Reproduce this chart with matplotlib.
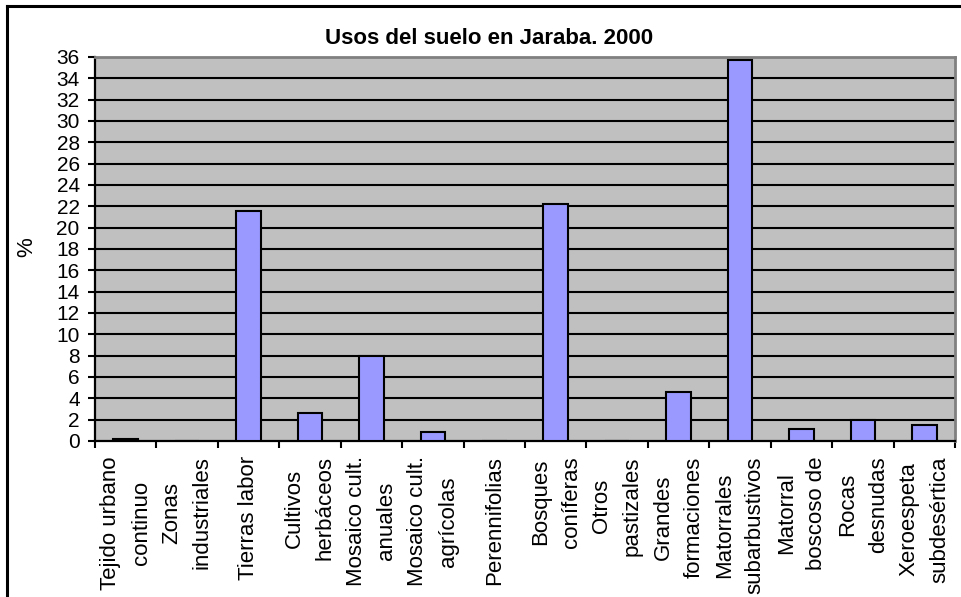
import numpy as np
import matplotlib
matplotlib.use("Agg")
import matplotlib.pyplot as plt
from matplotlib.lines import Line2D

plt.rcParams['font.family'] = ['Liberation Sans', 'DejaVu Sans']

categories = [
    "Tejido urbano\ncontinuo",
    "Zonas\nindustriales",
    "Tierras labor",
    "Cultivos\nherbáceos",
    "Mosaico cult.\nanuales",
    "Mosaico cult.\nagrícolas",
    "Perennifolias",
    "Bosques\nconíferas",
    "Otros\npastizales",
    "Grandes\nformaciones",
    "Matorrales\nsubarbustivos",
    "Matorral\nboscoso de",
    "Rocas\ndesnudas",
    "Xeroespeta\nsubdesértica",
]
values = [0.2, 0.0, 21.6, 2.6, 8.0, 0.8, 0.0, 22.2, 0.0, 4.6, 35.7, 1.1, 2.0, 1.5]
yticks = list(range(0, 37, 2))
title = "Usos del suelo en Jaraba. 2000"
ylabel = "%"

W, H = 961, 597
fig = plt.figure(figsize=(W / 100, H / 100), dpi=100)
ax = fig.add_axes([95 / W, 1 - 441 / H, 860 / W, 384 / H])
ax.set_facecolor('#C0C0C0')

x = np.arange(len(categories))
ax.bar(x, values, width=0.4, color='#9999FF', edgecolor='black', linewidth=1.5, zorder=3)

ax.set_xlim(-0.5, len(categories) - 0.5)
ax.set_ylim(0, 36)
ax.set_yticks(yticks)
ax.set_yticklabels([str(v) for v in yticks], fontsize=15)
ax.yaxis.grid(True, color='black', linewidth=1.5)
ax.set_axisbelow(True)
ticks = ax.yaxis.get_major_ticks()
ticks[-1].gridline.set_visible(False)
ticks[0].gridline.set_visible(False)

ax.set_xticks(x)
ax.set_xticklabels(categories, rotation=90, fontsize=16, ha='center', va='top')
for lbl in ax.get_xticklabels():
    lbl.set_multialignment('center')
    lbl.set_linespacing(1.6)
ax.set_xticks(np.arange(-0.5, len(categories), 1), minor=True)
ax.tick_params(axis='x', which='major', length=0, pad=11)
ax.tick_params(axis='x', which='minor', length=5, width=1.5, color='black', direction='out')
ax.tick_params(axis='y', length=5, width=1.5, color='black', direction='out', pad=6)

for s in ['left', 'bottom']:
    ax.spines[s].set_color('black')
    ax.spines[s].set_linewidth(1.6)
for s in ['top', 'right']:
    ax.spines[s].set_color('#808080')
    ax.spines[s].set_linewidth(2)

fig.text(489 / W, 1 - 38 / H, title, ha='center', va='center', fontsize=16, fontweight='bold')
fig.text(27 / W, 1 - 247 / H, ylabel, ha='center', va='center', rotation=90, fontsize=16)

# outer chart border (top and left visible)
fig.add_artist(Line2D([7 / W, 1.0], [1 - 6 / H, 1 - 6 / H], color='black', linewidth=2.2, transform=fig.transFigure))
fig.add_artist(Line2D([7 / W, 7 / W], [1 - 6 / H, 0.0], color='black', linewidth=2.2, transform=fig.transFigure))

fig.savefig('out.png', dpi=100)
